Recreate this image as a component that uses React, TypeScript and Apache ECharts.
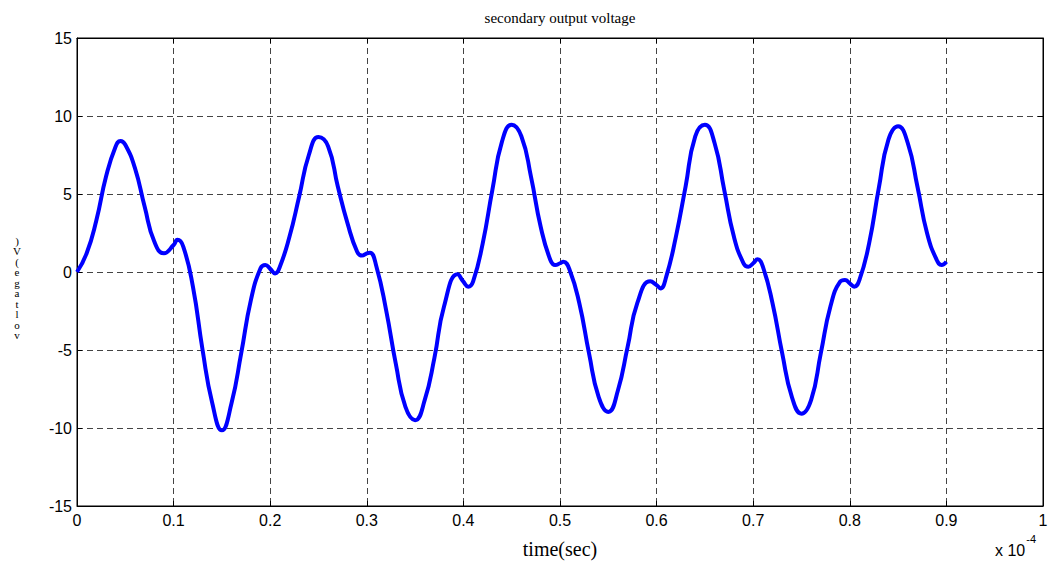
import React, { useEffect, useRef } from "react";
import * as echarts from "echarts";

// time in units of 1e-4 s (axis shows "x 10^-4")
const timeValues: number[] = [
  0, 0.01, 0.02, 0.03, 0.04, 0.045, 0.05, 0.06, 0.07, 0.08, 0.09, 0.1, 0.104, 0.11, 0.12, 0.13, 0.14, 0.15, 0.16, 0.17,
  0.18, 0.19, 0.195, 0.2, 0.205, 0.21, 0.22, 0.23, 0.24, 0.25, 0.26, 0.27, 0.28, 0.29, 0.295, 0.3, 0.3033, 0.31, 0.32,
  0.33, 0.34, 0.35, 0.36, 0.37, 0.38, 0.394, 0.4, 0.405, 0.41, 0.42, 0.43, 0.44, 0.45, 0.46, 0.47, 0.48, 0.49, 0.495,
  0.5, 0.5035, 0.51, 0.52, 0.53, 0.54, 0.55, 0.56, 0.57, 0.58, 0.5935, 0.6, 0.604, 0.61, 0.62, 0.63, 0.64, 0.65, 0.66,
  0.67, 0.68, 0.69, 0.695, 0.7, 0.7045, 0.71, 0.72, 0.73, 0.74, 0.75, 0.76, 0.77, 0.78, 0.79, 0.795, 0.8, 0.8045, 0.81,
  0.82, 0.83, 0.84, 0.85, 0.86, 0.87, 0.88, 0.89, 0.895, 0.9,
];
const voltageValues: number[] = [
  0, 1.2, 3.3, 6.1, 8.05, 8.4, 8.16, 6.66, 4.2, 1.95, 1.2, 1.73, 2.06, 1.63, -0.94, -5.0, -8.4, -10.15, -8.4, -5.2,
  -1.8, 0.24, 0.45, 0.2, -0.09, 0.34, 2.27, 4.84, 7.5, 8.65, 8.05, 5.48, 3.13, 1.3, 1.05, 1.2, 1.24, 0.34, -2.44,
  -5.87, -8.65, -9.5, -8.2, -5.5, -2.2, -0.15, -0.62, -0.94, -0.62, 1.84, 5.27, 8.37, 9.44, 8.7, 6.1, 2.9, 0.77, 0.45,
  0.56, 0.66, 0.13, -2.0, -5.2, -8.0, -8.97, -7.58, -4.8, -2.0, -0.6, -0.84, -1.05, -0.3, 2.27, 5.48, 8.7, 9.44, 8.27,
  5.27, 2.27, 0.56, 0.34, 0.56, 0.81, 0.34, -2.0, -5.2, -8.0, -9.08, -8.2, -5.2, -2.2, -0.62, -0.51, -0.73, -0.94, -0.51,
  1.84, 5.37, 8.48, 9.34, 8.27, 5.48, 2.48, 0.77, 0.45, 0.66,
];

const titleText = "secondary output voltage";
const xLabelText = "time(sec)";
const yLabelGlyphs = ["v", "o", "l", "t", "a", "g", "e", "(", "V", ")"];

export default function App() {
  const ref = useRef<HTMLDivElement>(null);
  useEffect(() => {
    if (!ref.current) return;
    const chart = echarts.init(ref.current, null, { renderer: "svg" });
    const data = timeValues.map((t, i) => [t, voltageValues[i]]);
    const gridLine = { show: true, lineStyle: { color: "#444", width: 1, type: [6, 4] as any } };
    const tickLabel = { fontFamily: "Liberation Sans, Arial", fontSize: 16, color: "#000" };
    const tick = { show: true, inside: true, length: 5, lineStyle: { color: "#000" } };
    chart.setOption({
      animation: false,
      backgroundColor: "#fff",
      grid: { left: 77, right: 8, top: 38, bottom: 59, show: true, borderColor: "#000", borderWidth: 1 },
      xAxis: [
        {
          type: "value", min: 0, max: 1, interval: 0.1,
          axisLine: { show: true, onZero: false, lineStyle: { color: "#000" } },
          axisTick: tick,
          axisLabel: { ...tickLabel, margin: 6, formatter: (v: number) => String(Math.round(v * 10) / 10) },
          splitLine: gridLine,
        },
        {
          type: "value", min: 0, max: 1, interval: 0.1, position: "top",
          axisLine: { show: true, onZero: false, lineStyle: { color: "#000" } },
          axisTick: tick,
          axisLabel: { show: false }, splitLine: { show: false },
        },
      ],
      yAxis: [
        {
          type: "value", min: -15, max: 15, interval: 5,
          axisLine: { show: true, onZero: false, lineStyle: { color: "#000" } },
          axisTick: tick,
          axisLabel: { ...tickLabel, margin: 5 },
          splitLine: gridLine,
        },
        {
          type: "value", min: -15, max: 15, interval: 5, position: "right",
          axisLine: { show: true, onZero: false, lineStyle: { color: "#000" } },
          axisTick: tick,
          axisLabel: { show: false }, splitLine: { show: false },
        },
      ],
      series: [
        {
          type: "line", data, smooth: 0.5, showSymbol: false,
          lineStyle: { color: "#0000ff", width: 4 },
          xAxisIndex: 0, yAxisIndex: 0,
        },
      ],
      graphic: [
        {
          type: "text", x: 560, y: 18,
          style: { text: titleText, font: "15px 'Liberation Serif', 'Times New Roman', serif", fill: "#000", textAlign: "center", textVerticalAlign: "middle" },
        },
        {
          type: "text", x: 560, y: 549,
          style: { text: xLabelText, font: "20px 'Liberation Serif', 'Times New Roman', serif", fill: "#000", textAlign: "center", textVerticalAlign: "middle" },
        },
        {
          type: "text", x: 17, y: 288,
          style: {
            text: yLabelGlyphs.slice().reverse().join("\n"),
            font: "11px 'Liberation Serif', 'Times New Roman', serif", fill: "#000",
            lineHeight: 10.5, textAlign: "center", textVerticalAlign: "middle",
          },
        },
        {
          type: "text", x: 995, y: 533,
          style: {
            text: "{b|x 10}{s|-4}",
            rich: {
              b: { fontFamily: "Liberation Sans, Arial", fontSize: 16, fill: "#000", color: "#000", verticalAlign: "bottom" },
              s: { fontFamily: "Liberation Sans, Arial", fontSize: 11, fill: "#000", color: "#000", verticalAlign: "top", padding: [0, 0, 14, 1] },
            },
          },
        },
      ],
    });
    return () => chart.dispose();
  }, []);
  return <div ref={ref} style={{ position: "fixed", left: 0, top: 0, width: 1051, height: 565 }} />;
}
